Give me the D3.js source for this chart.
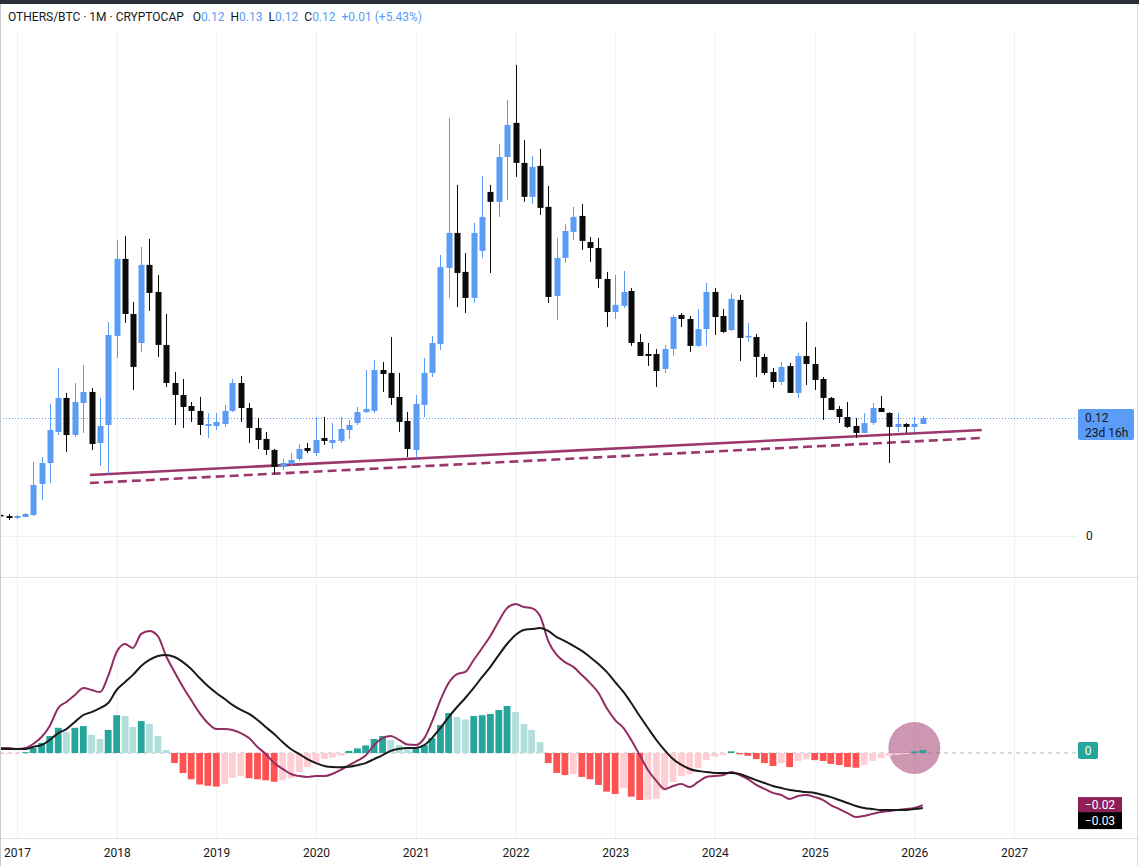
<!DOCTYPE html>
<html><head><meta charset="utf-8">
<script src="https://cdn.jsdelivr.net/npm/d3@7"></script>
<style>html,body{margin:0;padding:0;background:#fff;overflow:hidden}svg{display:block;font-family:Roboto,"Noto Sans",sans-serif}</style>
</head><body>
<svg id="c" width="1139" height="866"></svg>
<script>
// ---------- DATA ----------
const months = [
"2016-11","2016-12",
"2017-01","2017-02","2017-03","2017-04","2017-05","2017-06","2017-07","2017-08","2017-09","2017-10","2017-11","2017-12",
"2018-01","2018-02","2018-03","2018-04","2018-05","2018-06","2018-07","2018-08","2018-09","2018-10","2018-11","2018-12",
"2019-01","2019-02","2019-03","2019-04","2019-05","2019-06","2019-07","2019-08","2019-09","2019-10","2019-11","2019-12",
"2020-01","2020-02","2020-03","2020-04","2020-05","2020-06","2020-07","2020-08","2020-09","2020-10","2020-11","2020-12",
"2021-01","2021-02","2021-03","2021-04","2021-05","2021-06","2021-07","2021-08","2021-09","2021-10","2021-11","2021-12",
"2022-01","2022-02","2022-03","2022-04","2022-05","2022-06","2022-07","2022-08","2022-09","2022-10","2022-11","2022-12",
"2023-01","2023-02","2023-03","2023-04","2023-05","2023-06","2023-07","2023-08","2023-09","2023-10","2023-11","2023-12",
"2024-01","2024-02","2024-03","2024-04","2024-05","2024-06","2024-07","2024-08","2024-09","2024-10","2024-11","2024-12",
"2025-01","2025-02","2025-03","2025-04","2025-05","2025-06","2025-07","2025-08","2025-09","2025-10","2025-11","2025-12",
"2026-01","2026-02"];

const open = [0.0214,0.0203,
0.0183,0.0193,0.0214,0.0529,0.0742,0.1058,0.1404,0.1027,0.1353,0.1465,0.0946,0.1129,
0.2035,0.2818,0.2258,0.1963,0.2757,0.2482,0.1943,0.1556,0.1434,0.1322,0.1272,0.1119,
0.1119,0.1139,0.1272,0.1556,0.1302,0.1099,0.0987,0.0875,0.0702,0.0732,0.0783,0.0895,
0.0844,0.0997,0.0946,0.0966,0.1078,0.1149,0.1261,0.1272,0.1688,0.1658,0.1414,0.1170,
0.0875,0.1332,0.1658,0.1953,0.2726,0.3082,0.2686,0.2421,0.2899,0.3499,0.3398,0.3855,
0.4201,0.3794,0.3449,0.3764,0.3347,0.2441,0.2828,0.3092,0.3255,0.2990,0.2929,0.2614,
0.2278,0.2340,0.2492,0.1973,0.1851,0.1851,0.1699,0.1902,0.2248,0.2207,0.1933,0.2105,
0.2482,0.2237,0.2095,0.2401,0.2024,0.2024,0.1821,0.1668,0.1566,0.1729,0.1455,0.1831,
0.1749,0.1597,0.1404,0.1292,0.1210,0.1119,0.1048,0.1149,0.1302,0.1251,0.1109,0.1139,
0.1109,0.1139];
const high = [0.0244,0.0224,
0.0214,0.0234,0.0753,0.0803,0.1343,0.1709,0.1455,0.1556,0.1739,0.1505,0.1404,0.2176,
0.3011,0.3052,0.2380,0.2940,0.3021,0.2655,0.2258,0.1668,0.1597,0.1363,0.1414,0.1251,
0.1251,0.1332,0.1597,0.1627,0.1353,0.1200,0.1058,0.0885,0.0783,0.0844,0.0936,0.0946,
0.1210,0.1210,0.1149,0.1210,0.1180,0.1312,0.1688,0.1790,0.1770,0.2024,0.1658,0.1261,
0.1434,0.1811,0.2035,0.2858,0.4252,0.3571,0.2878,0.3184,0.3662,0.3571,0.3988,0.4435,
0.4791,0.4028,0.3866,0.3937,0.3560,0.3031,0.3174,0.3347,0.3377,0.3041,0.3031,0.2686,
0.2655,0.2696,0.2522,0.2055,0.1963,0.1902,0.1943,0.2248,0.2268,0.2237,0.2309,0.2574,
0.2522,0.2309,0.2462,0.2452,0.2167,0.2055,0.1851,0.1709,0.1770,0.1760,0.1861,0.2176,
0.1922,0.1617,0.1414,0.1322,0.1363,0.1200,0.1251,0.1353,0.1424,0.1261,0.1251,0.1149,
0.1210,0.1221];
const low = [0.0173,0.0163,
0.0173,0.0193,0.0203,0.0366,0.0539,0.1027,0.0854,0.1007,0.1048,0.0875,0.0712,0.0631,
0.1811,0.2167,0.1485,0.1872,0.2289,0.1821,0.1516,0.1129,0.1099,0.1160,0.1027,0.0997,
0.1078,0.1109,0.1261,0.1160,0.0946,0.0885,0.0824,0.0631,0.0671,0.0712,0.0763,0.0844,
0.0814,0.0926,0.0885,0.0946,0.0987,0.1129,0.1251,0.1251,0.1465,0.1332,0.1058,0.0803,
0.0793,0.1210,0.1617,0.1892,0.2421,0.2329,0.2268,0.2370,0.2828,0.2675,0.3245,0.3418,
0.3652,0.3398,0.3377,0.3265,0.2370,0.2197,0.2777,0.3011,0.2909,0.2787,0.2522,0.2126,
0.2207,0.2319,0.1933,0.1831,0.1729,0.1516,0.1658,0.1831,0.2126,0.1872,0.1922,0.1933,
0.2044,0.2065,0.2085,0.1780,0.1973,0.1617,0.1638,0.1505,0.1536,0.1455,0.1404,0.1536,
0.1485,0.1180,0.1282,0.1149,0.1099,0.0997,0.1048,0.1129,0.1261,0.0742,0.1058,0.1048,
0.1058,0.1139];
const close = [0.0203,0.0183,
0.0203,0.0224,0.0519,0.0742,0.1078,0.1404,0.1027,0.1363,0.1465,0.0936,0.1119,0.2044,
0.2818,0.2258,0.1719,0.2757,0.2472,0.1943,0.1556,0.1434,0.1312,0.1272,0.1129,0.1139,
0.1160,0.1272,0.1556,0.1302,0.1099,0.0976,0.0875,0.0702,0.0742,0.0773,0.0885,0.0865,
0.0976,0.0966,0.0976,0.1088,0.1129,0.1261,0.1292,0.1688,0.1648,0.1404,0.1160,0.0885,
0.1343,0.1658,0.1963,0.2736,0.3082,0.2675,0.2421,0.3082,0.3245,0.3398,0.3855,0.4181,
0.3794,0.3449,0.3754,0.3337,0.2431,0.2828,0.3102,0.3245,0.3001,0.2929,0.2614,0.2278,
0.2350,0.2482,0.1963,0.1831,0.1831,0.1678,0.1902,0.2227,0.2207,0.1933,0.2105,0.2482,
0.2227,0.2075,0.2411,0.2014,0.2035,0.1821,0.1658,0.1566,0.1719,0.1455,0.1831,0.1749,
0.1587,0.1404,0.1282,0.1210,0.1109,0.1048,0.1149,0.1302,0.1261,0.1109,0.1139,0.1109,
0.1139,0.1200];

const macd = [0.0024,0.0024,
0.0019,0.0024,0.0043,0.0076,0.0129,0.0214,0.0243,0.0276,0.0310,0.0300,0.0290,0.0367,
0.0481,0.0519,0.0500,0.0567,0.0581,0.0557,0.0462,0.0386,0.0314,0.0252,0.0190,0.0143,
0.0114,0.0114,0.0110,0.0095,0.0071,0.0029,-0.0005,-0.0048,-0.0076,-0.0100,-0.0110,-0.0114,
-0.0110,-0.0110,-0.0100,-0.0080,-0.0058,-0.0036,-0.0012,0.0038,0.0071,0.0081,0.0062,0.0040,
0.0038,0.0071,0.0148,0.0252,0.0333,0.0376,0.0386,0.0443,0.0500,0.0557,0.0629,0.0690,
0.0710,0.0695,0.0690,0.0652,0.0533,0.0467,0.0433,0.0410,0.0371,0.0333,0.0286,0.0214,
0.0157,0.0119,0.0062,-0.0010,-0.0081,-0.0133,-0.0171,-0.0157,-0.0148,-0.0162,-0.0138,-0.0114,
-0.0110,-0.0105,-0.0090,-0.0105,-0.0124,-0.0152,-0.0171,-0.0190,-0.0200,-0.0219,-0.0205,-0.0200,
-0.0210,-0.0224,-0.0248,-0.0267,-0.0286,-0.0305,-0.0300,-0.0290,-0.0281,-0.0276,-0.0271,-0.0267,
-0.0262,-0.0248];
const signal = [0.0019,0.0019,
0.0019,0.0019,0.0029,0.0038,0.0062,0.0095,0.0114,0.0148,0.0181,0.0195,0.0214,0.0238,
0.0300,0.0338,0.0371,0.0414,0.0443,0.0462,0.0467,0.0457,0.0433,0.0400,0.0357,0.0319,
0.0286,0.0257,0.0229,0.0205,0.0186,0.0157,0.0124,0.0090,0.0052,0.0019,-0.0005,-0.0029,
-0.0048,-0.0062,-0.0067,-0.0068,-0.0066,-0.0058,-0.0048,-0.0029,-0.0010,0.0010,0.0020,0.0024,
0.0024,0.0038,0.0071,0.0119,0.0171,0.0219,0.0262,0.0310,0.0362,0.0410,0.0467,0.0519,
0.0562,0.0586,0.0590,0.0595,0.0581,0.0552,0.0533,0.0510,0.0486,0.0457,0.0424,0.0386,
0.0338,0.0290,0.0238,0.0176,0.0119,0.0062,0.0014,-0.0029,-0.0057,-0.0076,-0.0086,-0.0090,
-0.0095,-0.0095,-0.0095,-0.0100,-0.0114,-0.0129,-0.0143,-0.0157,-0.0167,-0.0176,-0.0181,-0.0186,
-0.0190,-0.0200,-0.0210,-0.0224,-0.0238,-0.0252,-0.0262,-0.0267,-0.0271,-0.0271,-0.0271,-0.0271,
-0.0267,-0.0262];
const hist = [-0.0003,-0.0002,
-0.0001,0.0004,0.0024,0.0048,0.0081,0.0120,0.0100,0.0120,0.0128,0.0086,0.0067,0.0110,
0.0180,0.0176,0.0124,0.0152,0.0138,0.0081,0.0014,-0.0048,-0.0095,-0.0125,-0.0150,-0.0156,
-0.0160,-0.0148,-0.0118,-0.0110,-0.0120,-0.0125,-0.0130,-0.0137,-0.0130,-0.0120,-0.0090,-0.0067,
-0.0048,-0.0029,-0.0022,-0.0013,0.0010,0.0022,0.0036,0.0067,0.0081,0.0062,0.0038,0.0018,
0.0022,0.0038,0.0071,0.0133,0.0190,0.0171,0.0160,0.0176,0.0180,0.0186,0.0205,0.0224,
0.0195,0.0138,0.0110,0.0052,-0.0048,-0.0095,-0.0105,-0.0100,-0.0114,-0.0125,-0.0152,-0.0184,
-0.0195,-0.0167,-0.0208,-0.0224,-0.0222,-0.0218,-0.0180,-0.0138,-0.0110,-0.0102,-0.0071,-0.0033,
-0.0017,-0.0010,0.0008,-0.0006,-0.0013,-0.0029,-0.0048,-0.0062,-0.0048,-0.0067,-0.0038,-0.0030,
-0.0034,-0.0038,-0.0052,-0.0057,-0.0067,-0.0070,-0.0057,-0.0038,-0.0024,-0.0013,-0.0008,-0.0003,
0.0008,0.0014];

// trendlines (date, value)
const trendSolid = [["2017-09-25",0.0621],["2026-09-05",0.1078]];
const trendDashed = [["2017-09-25",0.0539],["2026-09-05",0.0997]];

const yearTicks = ["2017","2018","2019","2020","2021","2022","2023","2024","2025","2026","2027"];
const priceTicks = [0];
const macdTicks = [0.08,0.06,0.04,0.02,-0.02,-0.04];
const lastPrice = 0.12;
const lastPriceLabel = ["0.12","23d 16h"];
const highlightMonth = "2026-01";
const highlightValue = 0.0024;
const headerTitle = "OTHERS/BTC · 1M · CRYPTOCAP";
const headerKeys = ["O","H","L","C"];
const headerVals = ["0.12","0.13","0.12","0.12"];
const headerChange = "+0.01 (+5.43%)";
const macdLabels = ["−0.02","−0.03"];

// ---------- CHART ----------
const W = 1139, H = 866, plotR = 1077;
const mainTop = 30, sepY = 577, macdBot = 838;
const BLUE = "#5b9cf6", BLACK = "#0b0b0b", MAROON = "#922d63";
const svg = d3.select("#c");
const parseM = d3.utcParse("%Y-%m"), parseD = d3.utcParse("%Y-%m-%d"), parseY = d3.utcParse("%Y");
const dates = months.map(parseM);

const x = d3.scaleUtc().domain([parseY("2017"), parseY("2027")]).range([17, 1014]);
const y = d3.scaleLinear().domain([0, 0.12]).range([536, 418]);
const ym = d3.scaleLinear().domain([0, 0.08]).range([753, 585]);

svg.append("rect").attr("width",W).attr("height",H).attr("fill","#fff");

const defs = svg.append("defs");
defs.append("clipPath").attr("id","cm").append("rect").attr("x",0).attr("y",mainTop).attr("width",plotR).attr("height",sepY-mainTop);
defs.append("clipPath").attr("id","cd").append("rect").attr("x",0).attr("y",sepY+1).attr("width",plotR).attr("height",macdBot-sepY-1);
defs.append("clipPath").attr("id","ca").append("rect").attr("x",plotR).attr("y",sepY+1).attr("width",W-plotR).attr("height",macdBot-sepY-1);

// vertical grid
const gx = svg.append("g").attr("transform",`translate(0,${macdBot})`)
  .call(d3.axisBottom(x).tickValues(yearTicks.map(parseY)).tickSize(-(macdBot-mainTop)).tickFormat(""));
gx.select(".domain").remove();
gx.selectAll("line").attr("stroke","#eef0f4");

// horizontal grid main
const gy = svg.append("g").attr("transform",`translate(${plotR},0)`)
  .call(d3.axisRight(y).tickValues(priceTicks).tickSize(-plotR).tickFormat(""));
gy.select(".domain").remove(); gy.selectAll("line").attr("stroke","#eef0f4");
// horizontal grid macd
const gym = svg.append("g").attr("transform",`translate(${plotR},0)`).attr("clip-path","url(#cd)")
  .call(d3.axisRight(ym).tickValues(macdTicks).tickSize(-plotR).tickFormat(""));
gym.select(".domain").remove(); gym.selectAll("line").attr("stroke","#f0f2f6");

// separators
svg.append("line").attr("x1",0).attr("x2",W).attr("y1",sepY+0.5).attr("y2",sepY+0.5).attr("stroke","#e0e3eb");
svg.append("line").attr("x1",0).attr("x2",W).attr("y1",macdBot+0.5).attr("y2",macdBot+0.5).attr("stroke","#e0e3eb");

// ---------- MAIN PANE ----------
const main = svg.append("g").attr("clip-path","url(#cm)");
main.append("line").attr("x1",0).attr("x2",plotR).attr("y1",Math.round(y(lastPrice))+0.5).attr("y2",Math.round(y(lastPrice))+0.5)
  .attr("stroke",BLUE).attr("stroke-width",1).attr("stroke-dasharray","1,2");

const tl = d3.line().x(d=>x(parseD(d[0]))).y(d=>y(d[1]));
main.append("path").attr("d",tl(trendSolid)).attr("stroke","#9c376b").attr("stroke-width",2.6).attr("fill","none");
main.append("path").attr("d",tl(trendDashed)).attr("stroke","#9c376b").attr("stroke-width",2.6).attr("fill","none").attr("stroke-dasharray","9,5");

const candles = months.map((m,i)=>({d:dates[i],o:open[i],h:high[i],l:low[i],c:close[i]}));
const cg = main.append("g");
const bw = 6;
cg.selectAll("line.w").data(candles).join("line")
  .attr("x1",d=>Math.round(x(d.d))+0.5).attr("x2",d=>Math.round(x(d.d))+0.5)
  .attr("y1",d=>y(d.h)).attr("y2",d=>y(d.l))
  .attr("stroke",d=>d.c>=d.o?BLUE:BLACK).attr("stroke-width",1);
cg.selectAll("rect.b").data(candles).join("rect")
  .attr("x",d=>Math.round(x(d.d))+0.5-bw/2).attr("width",bw)
  .attr("y",d=>y(Math.max(d.o,d.c))).attr("height",d=>Math.max(1.5,Math.abs(y(d.o)-y(d.c))))
  .attr("fill",d=>d.c>=d.o?BLUE:BLACK);

// ---------- MACD PANE ----------
const mp = svg.append("g").attr("clip-path","url(#cd)");
mp.append("line").attr("x1",0).attr("x2",plotR).attr("y1",ym(0)).attr("y2",ym(0))
  .attr("stroke","#b8bcc6").attr("stroke-dasharray","4,4").attr("stroke-width",1);
mp.append("circle").attr("cx",x(parseM(highlightMonth))).attr("cy",ym(highlightValue)).attr("r",26)
  .attr("fill","#9c2f66").attr("fill-opacity",0.5);

const hb = hist.map((v,i)=>{
  const p = i>0?hist[i-1]:v;
  let col;
  if (v>=0) col = (v>=p)?"#26a69a":"#b2dfdb"; else col = (v<p)?"#ff5252":"#ffcdd2";
  return {d:dates[i],v,col};
});
const hw = 6.8;
mp.selectAll("rect.h").data(hb).join("rect")
  .attr("x",d=>x(d.d)-hw/2).attr("width",hw)
  .attr("y",d=>Math.min(ym(d.v),ym(0))).attr("height",d=>Math.max(1,Math.abs(ym(d.v)-ym(0))))
  .attr("fill",d=>d.col);

const ml = d3.line().x((d,i)=>x(dates[i])).y(d=>ym(d)).curve(d3.curveMonotoneX);
mp.append("path").attr("d",ml(macd)).attr("stroke",MAROON).attr("stroke-width",2).attr("fill","none");
mp.append("path").attr("d",ml(signal)).attr("stroke","#1a1a1a").attr("stroke-width",2).attr("fill","none");

// ---------- AXES ----------
const fontCol = "#131722";
const xa = svg.append("g").attr("transform",`translate(0,${macdBot})`)
  .call(d3.axisBottom(x).tickValues(yearTicks.map(parseY)).tickSize(0).tickPadding(10).tickFormat(d3.utcFormat("%Y")));
xa.select(".domain").remove();
xa.selectAll("text").attr("fill",fontCol).attr("font-size",12).attr("font-family","Roboto, sans-serif");

const pa = svg.append("g").attr("transform",`translate(${plotR},0)`)
  .call(d3.axisRight(y).tickValues(priceTicks).tickSize(0).tickPadding(9).tickFormat(d3.format("d")));
pa.select(".domain").remove();
pa.selectAll("text").attr("fill",fontCol).attr("font-size",12).attr("font-family","Roboto, sans-serif");

const ma = svg.append("g").attr("transform",`translate(${plotR},0)`).attr("clip-path","url(#ca)")
  .call(d3.axisRight(ym).tickValues(macdTicks).tickSize(0).tickPadding(9).tickFormat(d3.format(".2f")));
ma.select(".domain").remove();
ma.selectAll("text").attr("fill",fontCol).attr("font-size",12).attr("font-family","Roboto, sans-serif");

// price label
const py = y(lastPrice);
svg.append("rect").attr("x",1078).attr("y",py-9).attr("width",56).attr("height",31).attr("rx",2).attr("fill",BLUE);
svg.append("text").attr("x",1085).attr("y",py+4).text(lastPriceLabel[0]).attr("fill",fontCol).attr("font-size",12);
svg.append("text").attr("x",1085).attr("y",py+19).text(lastPriceLabel[1]).attr("fill",fontCol).attr("font-size",12);

// macd zero label
svg.append("rect").attr("x",1078).attr("y",ym(0)-11).attr("width",20).attr("height",17).attr("rx",2).attr("fill","#26a69a");
svg.append("text").attr("x",1088).attr("y",ym(0)+2).attr("text-anchor","middle").text("0").attr("fill","#fff").attr("font-size",12);
// macd / signal labels
const mly = ym(macd[macd.length-1]);
svg.append("rect").attr("x",1078).attr("y",mly-8).attr("width",44).attr("height",15).attr("fill","#8e1f59");
svg.append("text").attr("x",1100).attr("y",mly+4).attr("text-anchor","middle").text(macdLabels[0]).attr("fill","#fff").attr("font-size",12);
svg.append("rect").attr("x",1078).attr("y",mly+7).attr("width",44).attr("height",17).attr("fill","#000");
svg.append("text").attr("x",1100).attr("y",mly+20).attr("text-anchor","middle").text(macdLabels[1]).attr("fill","#fff").attr("font-size",12);

// ---------- HEADER ----------
svg.append("rect").attr("x",0).attr("y",0).attr("width",W).attr("height",4).attr("fill","#2a2e39");
const ht = svg.append("text").attr("x",8).attr("y",21).attr("font-size",12).attr("fill",fontCol);
ht.append("tspan").text(headerTitle);
headerKeys.forEach((k,i)=>{
  ht.append("tspan").attr("dx", i===0?9:6).text(k).attr("fill",fontCol);
  ht.append("tspan").text(headerVals[i]).attr("fill",BLUE);
});
ht.append("tspan").attr("dx",6).text(headerChange).attr("fill",BLUE);

// frame
svg.append("line").attr("x1",0.5).attr("x2",0.5).attr("y1",4).attr("y2",H).attr("stroke","#c8cad0");
svg.append("line").attr("x1",W-1.5).attr("x2",W-1.5).attr("y1",4).attr("y2",H).attr("stroke","#d8dae0");
</script>
</body></html>
